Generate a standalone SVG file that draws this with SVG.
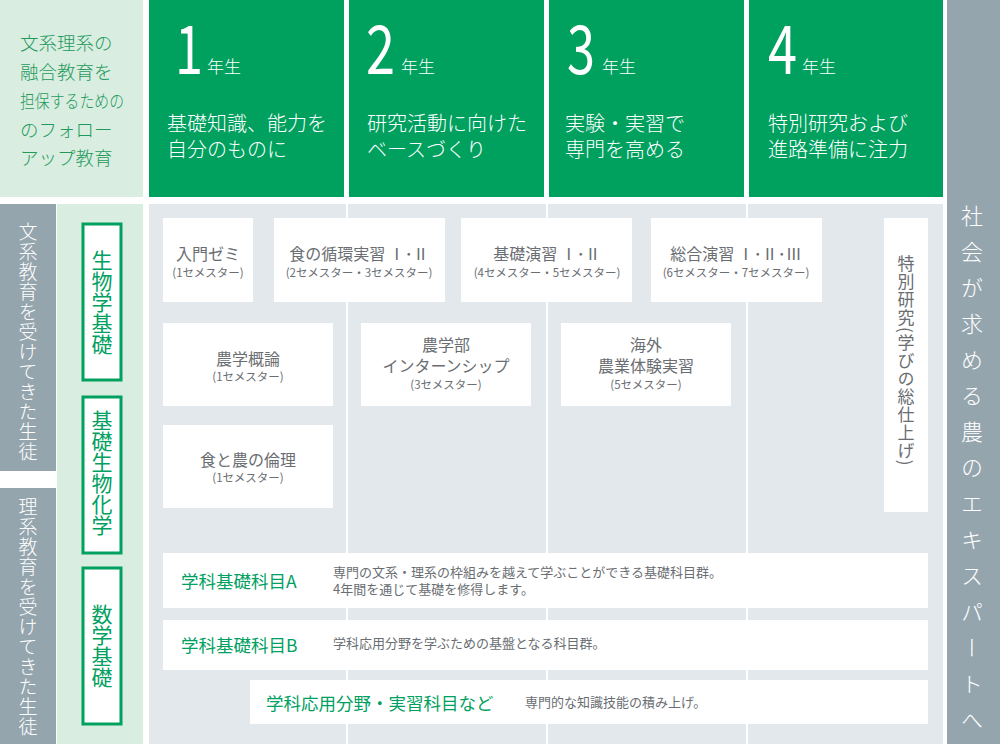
<svg xmlns="http://www.w3.org/2000/svg" width="1000" height="744" viewBox="0 0 1000 744">
<style>
.jp{font-family:"Noto Sans CJK JP","Noto Sans",sans-serif}
.g{fill:#00a05f}
.lg{fill:#d9ede1}
.dg{fill:#95a5ae}
.wbox{fill:#ffffff}
.head{font-family:"Noto Sans CJK JP",sans-serif;fill:#ffffff;font-size:20px;font-weight:300}
.num{font-family:"Noto Sans CJK JP",sans-serif;fill:#ffffff;font-size:67px;font-weight:400}
.yr{font-family:"Noto Sans CJK JP",sans-serif;fill:#ffffff;font-size:17px;font-weight:300}
.t{font-family:"Noto Sans CJK JP",sans-serif;fill:#6a6e72;font-size:16px;text-anchor:middle}
.s{font-family:"Noto Sans CJK JP",sans-serif;fill:#6a6e72;font-size:11.5px;text-anchor:middle}
.d{font-family:"Noto Sans CJK JP",sans-serif;fill:#6a6e72;font-size:13px}
.gt{font-family:"Noto Sans CJK JP",sans-serif;fill:#00a05f;font-size:17.5px}
.v{writing-mode:vertical-rl}
.gb{fill:#ffffff;stroke:#00a05f;stroke-width:3}
</style>
<rect x="0" y="0" width="1000" height="744" fill="#ffffff"/>
<g id="intro">
<rect x="0" y="0" width="143" height="197" class="lg"/>
<text class="jp" font-size="18.5" font-weight="300" fill="#1f9a5c"><tspan x="20" y="50">文系理系の</tspan><tspan x="20" y="79">融合教育を</tspan><tspan x="20" y="108" textLength="104" lengthAdjust="spacingAndGlyphs">担保するための</tspan><tspan x="20" y="137">のフォロー</tspan><tspan x="20" y="165">アップ教育</tspan></text>
</g>
<g id="year1">
<rect x="149" y="0" width="195" height="197" class="g"/>
<text class="num" x="175" y="74" textLength="28" lengthAdjust="spacingAndGlyphs">1</text>
<text class="yr" x="207" y="73">年生</text>
<text class="head"><tspan x="167" y="131">基礎知識、能力を</tspan><tspan x="167" y="157">自分のものに</tspan></text>
</g>
<g id="year2">
<rect x="349" y="0" width="195" height="197" class="g"/>
<text class="num" x="366" y="74" textLength="29" lengthAdjust="spacingAndGlyphs">2</text>
<text class="yr" x="401" y="73">年生</text>
<text class="head"><tspan x="367" y="131">研究活動に向けた</tspan><tspan x="367" y="157">ベースづくり</tspan></text>
</g>
<g id="year3">
<rect x="549" y="0" width="195" height="197" class="g"/>
<text class="num" x="567" y="74" textLength="28" lengthAdjust="spacingAndGlyphs">3</text>
<text class="yr" x="602" y="73">年生</text>
<text class="head"><tspan x="565" y="131">実験・実習で</tspan><tspan x="565" y="157">専門を高める</tspan></text>
</g>
<g id="year4">
<rect x="749" y="0" width="194" height="197" class="g"/>
<text class="num" x="768" y="74" textLength="29" lengthAdjust="spacingAndGlyphs">4</text>
<text class="yr" x="802" y="73">年生</text>
<text class="head"><tspan x="768" y="131">特別研究および</tspan><tspan x="768" y="157">進路準備に注力</tspan></text>
</g>
<g id="goal">
<rect x="947" y="0" width="53" height="744" class="dg"/>
<text class="jp v" x="972" y="205" font-size="22" font-weight="300" fill="#ffffff" letter-spacing="14">社会が求める農のエキスパートへ</text>
</g>
<g id="students">
<rect x="0" y="204" width="56" height="267" class="dg"/>
<text class="jp v" x="28" y="222" font-size="19" font-weight="300" fill="#ffffff" letter-spacing="1">文系教育を受けてきた生徒</text>
<rect x="0" y="488" width="56" height="256" class="dg"/>
<text class="jp v" x="28" y="497" font-size="19" font-weight="300" fill="#ffffff" letter-spacing="1">理系教育を受けてきた生徒</text>
<rect x="57" y="204" width="86" height="540" class="lg"/>
</g>
<g id="area">
<rect x="149" y="204" width="794" height="540" fill="#e3e8ec"/>
<line x1="347" y1="204" x2="347" y2="744" stroke="#ffffff" stroke-width="2"/>
<line x1="547" y1="204" x2="547" y2="744" stroke="#ffffff" stroke-width="2"/>
<line x1="747" y1="204" x2="747" y2="744" stroke="#ffffff" stroke-width="2"/>
</g>
<g id="bio">
<rect x="83" y="224" width="38" height="156" class="gb"/>
<text class="jp v" x="102" y="250" font-size="21" fill="#00a05f">生物学基礎</text>
</g>
<g id="biochem">
<rect x="83" y="397" width="38" height="156" class="gb"/>
<text class="jp v" x="102" y="410" font-size="21" fill="#00a05f">基礎生物化学</text>
</g>
<g id="math">
<rect x="83" y="568" width="38" height="156" class="gb"/>
<text class="jp v" x="102" y="604" font-size="21" fill="#00a05f">数学基礎</text>
</g>
<g id="nyumon">
<rect x="163" y="218" width="90" height="84" class="wbox"/>
<text class="t" x="208" y="260">入門ゼミ</text>
<text class="s" x="208" y="277">(1セメスター)</text>
</g>
<g id="junkan">
<rect x="274" y="218" width="171" height="84" class="wbox"/>
<text class="t" x="359" y="260">食の循環実習 Ⅰ･Ⅱ</text>
<text class="s" x="359" y="277">(2セメスター・3セメスター)</text>
</g>
<g id="kiso">
<rect x="461" y="218" width="171" height="84" class="wbox"/>
<text class="t" x="547" y="260">基礎演習 Ⅰ･Ⅱ</text>
<text class="s" x="547" y="277">(4セメスター・5セメスター)</text>
</g>
<g id="sogo">
<rect x="651" y="218" width="171" height="84" class="wbox"/>
<text class="t" x="736" y="260">総合演習 Ⅰ･Ⅱ･Ⅲ</text>
<text class="s" x="736" y="277">(6セメスター・7セメスター)</text>
</g>
<g id="tokubetsu">
<rect x="884" y="218" width="44" height="294" class="wbox"/>
<text class="jp v" x="906" y="255" font-size="17" fill="#6a6e72" letter-spacing="1">特別研究(学びの総仕上げ)</text>
</g>
<g id="gairon">
<rect x="163" y="323" width="170" height="83" class="wbox"/>
<text class="t" x="248" y="365">農学概論</text>
<text class="s" x="248" y="381">(1セメスター)</text>
</g>
<g id="intern">
<rect x="361" y="323" width="170" height="83" class="wbox"/>
<text class="t" x="446" y="351">農学部</text>
<text class="t" x="446" y="372">インターンシップ</text>
<text class="s" x="446" y="389">(3セメスター)</text>
</g>
<g id="kaigai">
<rect x="561" y="323" width="170" height="83" class="wbox"/>
<text class="t" x="646" y="351">海外</text>
<text class="t" x="646" y="372">農業体験実習</text>
<text class="s" x="646" y="389">(5セメスター)</text>
</g>
<g id="rinri">
<rect x="163" y="425" width="170" height="83" class="wbox"/>
<text class="t" x="248" y="466">食と農の倫理</text>
<text class="s" x="248" y="482">(1セメスター)</text>
</g>
<g id="kamokuA">
<rect x="163" y="553" width="765" height="55" class="wbox"/>
<text class="gt" x="181" y="588">学科基礎科目A</text>
<text class="d"><tspan x="333" y="577">専門の文系・理系の枠組みを越えて学ぶことができる基礎科目群。</tspan><tspan x="333" y="594">4年間を通じて基礎を修得します。</tspan></text>
</g>
<g id="kamokuB">
<rect x="163" y="620" width="765" height="50" class="wbox"/>
<text class="gt" x="181" y="652">学科基礎科目B</text>
<text class="d" x="333" y="648">学科応用分野を学ぶための基盤となる科目群。</text>
</g>
<g id="oyo">
<rect x="250" y="680" width="678" height="44" class="wbox"/>
<text class="gt" x="266" y="710" font-size="18.3">学科応用分野・実習科目など</text>
<text class="d" x="525" y="707">専門的な知識技能の積み上げ。</text>
</g>
</svg>
